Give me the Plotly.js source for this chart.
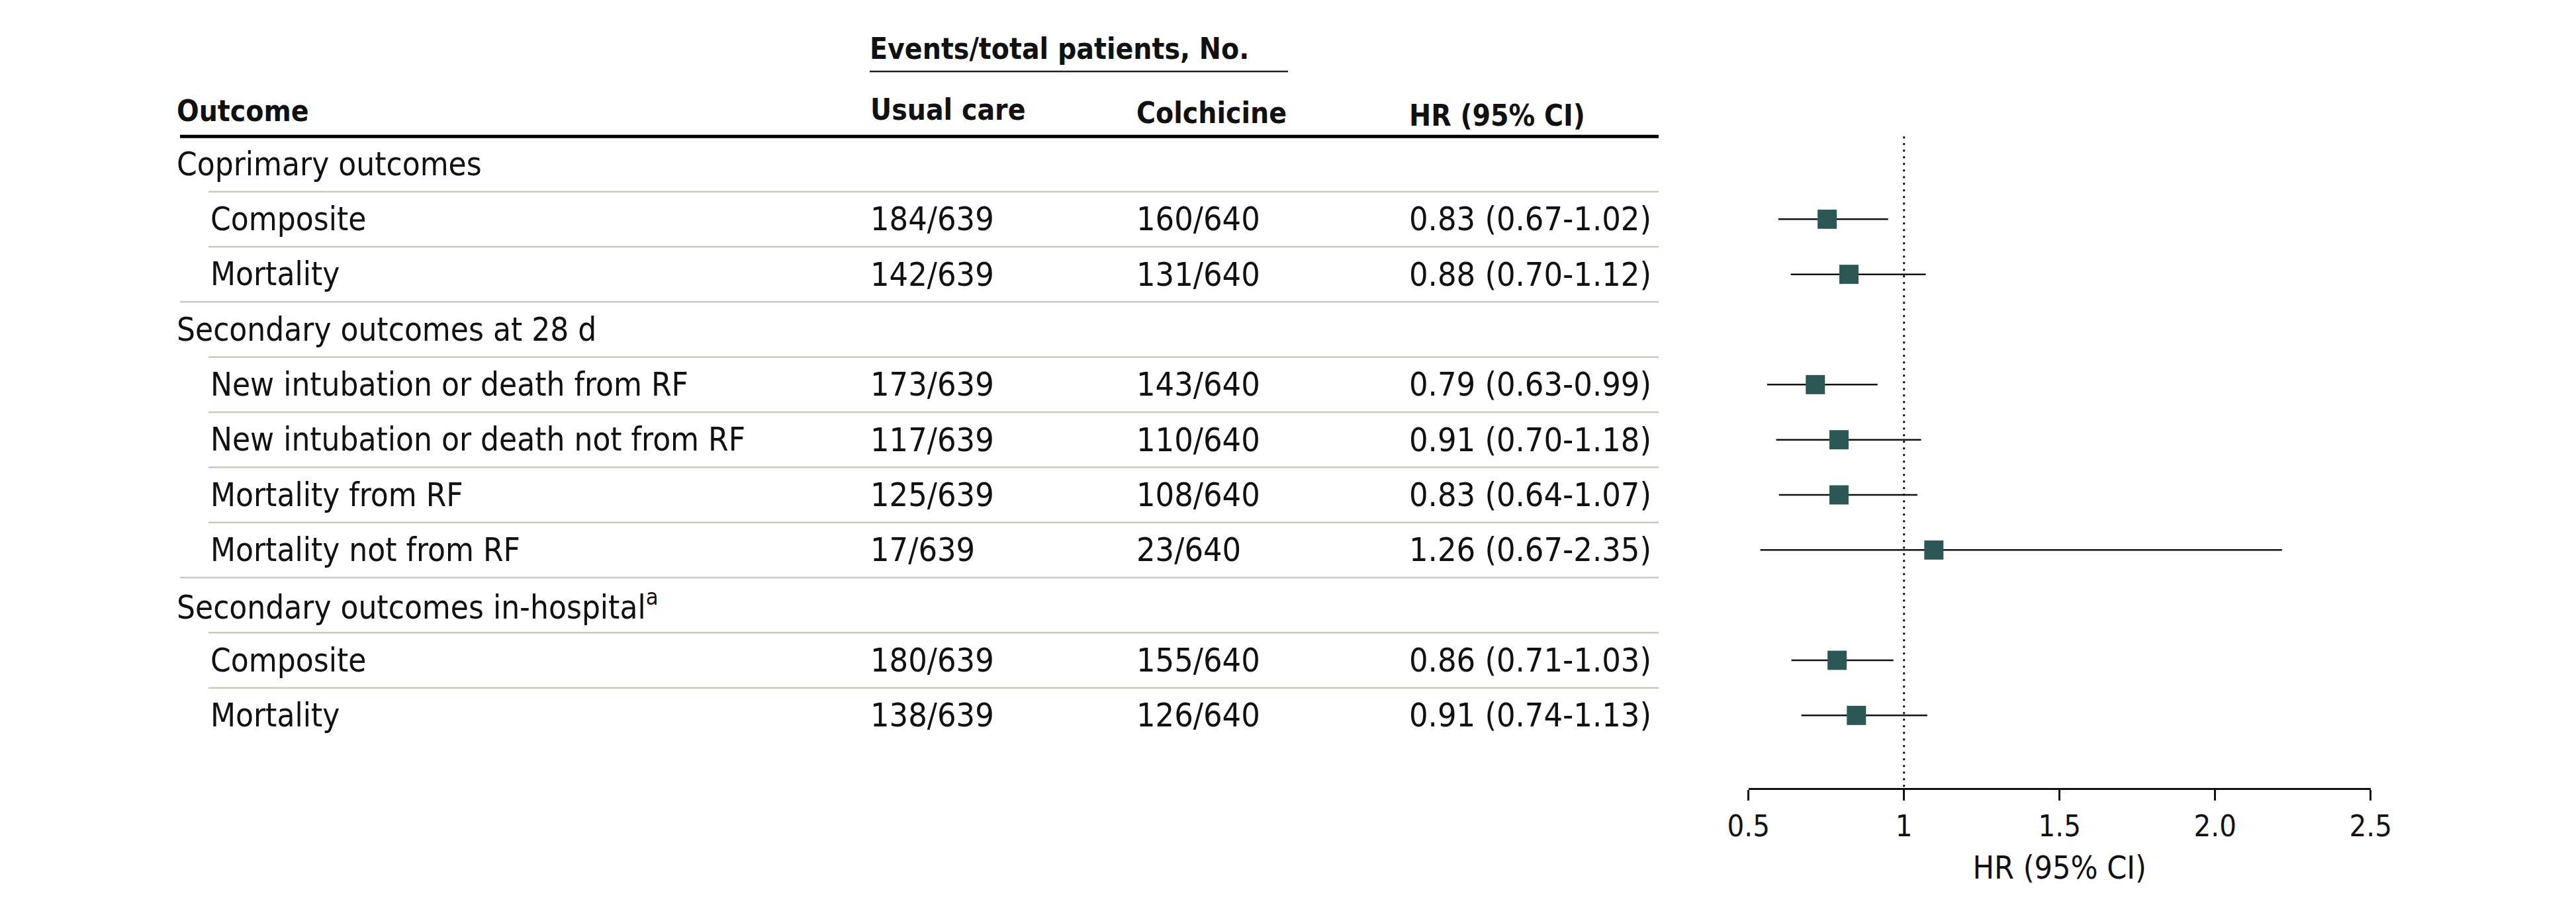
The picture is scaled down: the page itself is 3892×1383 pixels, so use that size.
<!DOCTYPE html>
<html>
<head>
<meta charset="utf-8">
<script src="https://cdn.plot.ly/plotly-3.0.1.min.js"></script>
<style>html,body{margin:0;padding:0;background:#fff;}</style>
</head>
<body>
<div id="chart" style="width:3892px;height:1383px;"></div>
<script>
// ---------- data ----------
const outcomes = [
  'Coprimary outcomes',
  'Composite',
  'Mortality',
  'Secondary outcomes at 28 d',
  'New intubation or death from RF',
  'New intubation or death not from RF',
  'Mortality from RF',
  'Mortality not from RF',
  'Secondary outcomes in-hospital<sup>a</sup>',
  'Composite',
  'Mortality'
];
const usualCare = ['', '184/639', '142/639', '', '173/639', '117/639', '125/639', '17/639', '', '180/639', '138/639'];
const colchicine = ['', '160/640', '131/640', '', '143/640', '110/640', '108/640', '23/640', '', '155/640', '126/640'];
const hrText = ['', '0.83 (0.67-1.02)', '0.88 (0.70-1.12)', '', '0.79 (0.63-0.99)', '0.91 (0.70-1.18)',
  '0.83 (0.64-1.07)', '1.26 (0.67-2.35)', '', '0.86 (0.71-1.03)', '0.91 (0.74-1.13)'];
// plotted positions
const hrPlot = [null, 0.753, 0.823, null, 0.715, 0.791, 0.791, 1.096, null, 0.785, 0.847];
const ciLow  = [null, 0.596, 0.636, null, 0.560, 0.589, 0.598, 0.538, null, 0.638, 0.670];
const ciHigh = [null, 0.949, 1.070, null, 0.915, 1.055, 1.043, 2.215, null, 0.966, 1.075];
const xTicks = [0.5, 1, 1.5, 2, 2.5];
const xTickLabels = ['0.5', '1', '1.5', '2.0', '2.5'];
const colHeaders = ['Outcome', 'Usual care', 'Colchicine', 'HR (95% CI)'];
const groupHeader = 'Events/total patients, No.';
const axisTitle = 'HR (95% CI)';

// ---------- layout helpers ----------
const W = 3892, H = 1383;
const px = v => v / W;
const FONT = 'DejaVu Sans Condensed, DejaVu Sans, sans-serif';
const HFONT = 'DejaVu Sans Condensed, DejaVu Sans, sans-serif';
const TXT = '#111111';
const LINE = '#c8cabb';

const colX = {outcome: 265, indent: 316, usual: 1313, colch: 1715, hr: 2127};
const tableRight = 2506;

const annotations = [];
const shapes = [];

// group header + underline
annotations.push({xref: 'paper', yref: 'y', x: px(1312), y: -2.09, text: groupHeader,
  showarrow: false, xanchor: 'left', yanchor: 'middle',
  font: {family: HFONT, size: 44, color: TXT, weight: 'bold'}});
shapes.push({type: 'line', xref: 'paper', yref: 'y', x0: px(1314), x1: px(1946), y0: -1.68, y1: -1.68,
  line: {color: '#222', width: 2.5}});

// column headers
const hdrX = [colX.outcome, colX.usual, colX.colch, colX.hr];
const hdrY = [-0.97, -0.99, -0.93, -0.88];
colHeaders.forEach((t, i) => {
  annotations.push({xref: 'paper', yref: 'y', x: px(hdrX[i]), y: hdrY[i], text: t,
    showarrow: false, xanchor: 'left', yanchor: 'middle',
    font: {family: HFONT, size: 44, color: TXT, weight: 'bold'}});
});
shapes.push({type: 'line', xref: 'paper', yref: 'y', x0: px(272), x1: px(tableRight), y0: -0.5, y1: -0.5,
  line: {color: '#000', width: 5}});

// rows
outcomes.forEach((lab, i) => {
  const isGroup = usualCare[i] === '';
  annotations.push({xref: 'paper', yref: 'y', x: px(isGroup ? colX.outcome : colX.indent), y: i,
    text: lab, showarrow: false, xanchor: 'left', yanchor: 'middle',
    font: {family: FONT, size: 49, color: TXT}});
  if (!isGroup) {
    [[colX.usual, usualCare[i]], [colX.colch, colchicine[i]], [colX.hr, hrText[i]]].forEach(([xx, t]) => {
      annotations.push({xref: 'paper', yref: 'y', x: px(xx), y: i, text: t, showarrow: false,
        xanchor: 'left', yanchor: 'middle', font: {family: FONT, size: 50, color: TXT}});
    });
  }
  if (i < outcomes.length - 1) {
    const nextGroup = usualCare[i + 1] === '';
    shapes.push({type: 'line', xref: 'paper', yref: 'y', x0: px(nextGroup ? 272 : 315), x1: px(tableRight),
      y0: i + 0.5, y1: i + 0.5, line: {color: LINE, width: 2.5}});
  }
});

// reference line at HR = 1
const axisPos = 1 - 1192 / H;
shapes.push({type: 'line', xref: 'x', yref: 'y', x0: 1, x1: 1, y0: -0.5, y1: (1192 - 248) / 83.333,
  layer: 'below', line: {color: '#111', width: 3, dash: '3px,7px'}});

// forest points
const rowsIdx = [], xs = [], ePlus = [], eMinus = [];
hrPlot.forEach((v, i) => {
  if (v !== null) {
    rowsIdx.push(i); xs.push(v);
    ePlus.push(ciHigh[i] - v); eMinus.push(v - ciLow[i]);
  }
});

const trace = {
  type: 'scatter', mode: 'markers', x: xs, y: rowsIdx,
  marker: {symbol: 'square', size: 29, color: '#2b5755', line: {width: 0}},
  error_x: {type: 'data', symmetric: false, array: ePlus, arrayminus: eMinus,
    color: '#111', thickness: 2.5, width: 0},
  hoverinfo: 'skip', cliponaxis: false
};

const layout = {
  width: W, height: H,
  margin: {l: 0, r: 0, t: 0, b: 0},
  paper_bgcolor: '#fff', plot_bgcolor: 'rgba(0,0,0,0)',
  showlegend: false,
  xaxis: {
    domain: [2641.7 / W, 3581.7 / W], range: [0.5, 2.5],
    anchor: 'free', position: axisPos,
    tickmode: 'array', tickvals: xTicks, ticktext: xTickLabels,
    showline: true, linecolor: '#111', linewidth: 3,
    ticks: 'outside', ticklen: 16, tickwidth: 2.5, tickcolor: '#111',
    showgrid: false, zeroline: false,
    tickfont: {family: FONT, size: 45, color: TXT},
    ticklabelstandoff: 0,
    title: {text: axisTitle, font: {family: FONT, size: 48, color: TXT}, standoff: 20}
  },
  yaxis: {domain: [0, 1], range: [(H - 248) / 83.333, -248 / 83.333], visible: false,
    showgrid: false, zeroline: false},
  annotations: annotations,
  shapes: shapes
};

Plotly.newPlot('chart', [trace], layout, {staticPlot: true, displayModeBar: false});
</script>
</body>
</html>
